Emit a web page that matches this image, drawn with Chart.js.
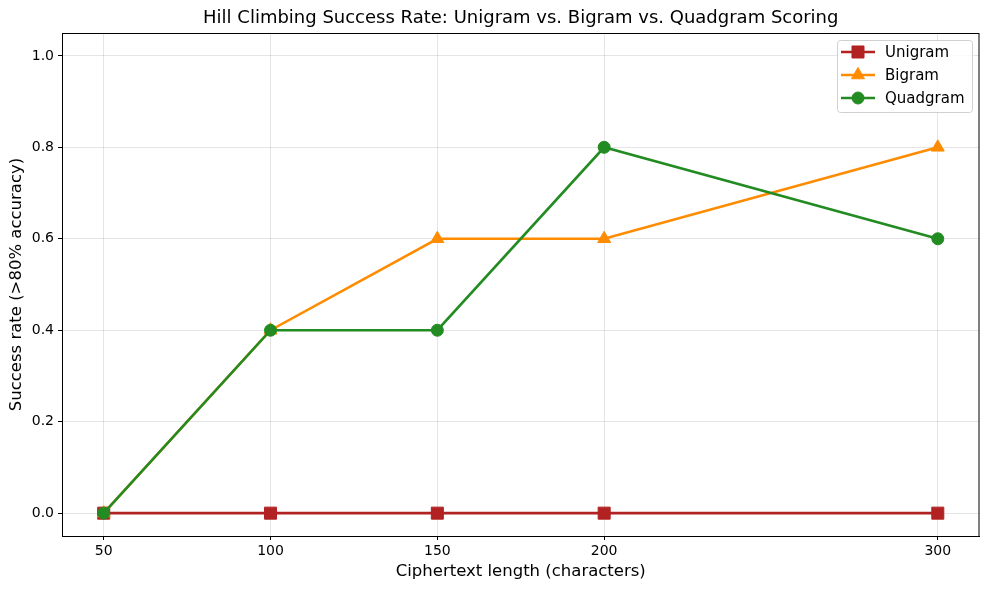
<!DOCTYPE html>
<html>
<head>
<meta charset="utf-8">
<script src="https://cdn.jsdelivr.net/npm/chart.js@4/dist/chart.umd.min.js"></script>
<style>
  html, body { margin: 0; padding: 0; background: #fff; }
  #wrap { width: 989px; height: 590px; }
</style>
</head>
<body>
<div id="wrap"><canvas id="hillChart" width="989" height="590"></canvas></div>
<script>
// data
const lengths = [50, 100, 150, 200, 300];
const unigram = [0, 0, 0, 0, 0];
const bigram = [0, 0.4, 0.6, 0.6, 0.8];
const quadgram = [0, 0.4, 0.4, 0.8, 0.6];
const yTicks = [0, 0.2, 0.4, 0.6, 0.8, 1.0];

const titleText = "Hill Climbing Success Rate: Unigram vs. Bigram vs. Quadgram Scoring";
const font = "'DejaVu Sans', sans-serif";

function pts(arr) {
    return lengths.map((x, i) => ({ x: x, y: arr[i] }));
}

function series(label, arr, color, style, radius, order) {
    return {
        label: label,
        data: pts(arr),
        borderColor: color,
        backgroundColor: color,
        pointBackgroundColor: color,
        pointBorderColor: color,
        pointBorderWidth: 1,
        pointStyle: style,
        pointRadius: radius,
        pointHoverRadius: radius,
        borderWidth: 2.6,
        tension: 0,
        order: order
    };
}

// frame, title and matplotlib-style legend inside the plot
const extras = {
    id: 'extras',
    afterDraw(chart) {
        const ctx = chart.ctx;
        const a = chart.chartArea;
        ctx.save();
        ctx.strokeStyle = '#000';
        ctx.lineWidth = 1;
        ctx.strokeRect(a.left + 0.5, a.top + 0.5, a.right - a.left - 1, a.bottom - a.top);

        ctx.fillStyle = '#000';
        ctx.font = "18px " + font;
        ctx.textAlign = 'center';
        ctx.textBaseline = 'middle';
        ctx.fillText(titleText, (a.left + a.right) / 2, 18);

        // legend box
        const bx = 837, by = 40, bw = 135, bh = 72;
        ctx.fillStyle = 'rgba(255,255,255,0.8)';
        ctx.strokeStyle = '#d0d0d0';
        ctx.beginPath();
        ctx.roundRect(bx + 0.5, by + 0.5, bw, bh, 3);
        ctx.fill();
        ctx.stroke();

        ctx.font = "15px " + font;
        ctx.textAlign = 'left';
        chart.data.datasets.forEach((ds, i) => {
            const y = by + 12 + i * 23;
            ctx.strokeStyle = ds.borderColor;
            ctx.lineWidth = 2.6;
            ctx.beginPath();
            ctx.moveTo(bx + 4, y);
            ctx.lineTo(bx + 38, y);
            ctx.stroke();
            ctx.fillStyle = ds.borderColor;
            ctx.lineWidth = 1;
            Chart.helpers.drawPoint(ctx, { pointStyle: ds.pointStyle, radius: ds.pointRadius, borderWidth: 1 }, bx + 21, y);
            ctx.fillStyle = '#000';
            ctx.fillText(ds.label, bx + 48, y + 1);
        });
        ctx.restore();
    }
};

new Chart(document.getElementById('hillChart'), {
    type: 'line',
    data: {
        datasets: [
            series('Unigram', unigram, '#b22222', 'rect', 8.5, 3),
            series('Bigram', bigram, '#ff8c00', 'triangle', 7.5, 2),
            series('Quadgram', quadgram, '#228b22', 'circle', 6, 1)
        ]
    },
    options: {
        responsive: false,
        animation: false,
        layout: { padding: { top: 33, right: 9, left: 0, bottom: 0 } },
        plugins: {
            legend: { display: false },
            title: { display: false },
            tooltip: { enabled: false }
        },
        scales: {
            x: {
                type: 'linear',
                min: 37.5,
                max: 312.5,
                afterBuildTicks: s => { s.ticks = lengths.map(v => ({ value: v })); },
                afterFit: s => { s.height = 54; },
                ticks: { color: '#000', font: { family: font, size: 14 }, padding: 3, maxRotation: 0 },
                grid: { color: 'rgba(0,0,0,0.1)', tickColor: '#000', tickLength: 4 },
                border: { color: '#000', width: 1 },
                title: {
                    display: true,
                    text: 'Ciphertext length (characters)',
                    color: '#000',
                    font: { family: font, size: 16.5 },
                    padding: { top: 2, bottom: 8 }
                }
            },
            y: {
                min: -0.05,
                max: 1.05,
                afterBuildTicks: s => { s.ticks = yTicks.map(v => ({ value: v })); },
                afterFit: s => { s.width = 62; },
                ticks: {
                    color: '#000',
                    font: { family: font, size: 14 },
                    padding: 4,
                    callback: v => v.toFixed(1)
                },
                grid: { color: 'rgba(0,0,0,0.1)', tickColor: '#000', tickLength: 4 },
                border: { color: '#000', width: 1 },
                title: {
                    display: true,
                    text: 'Success rate (>80% accuracy)',
                    color: '#000',
                    font: { family: font, size: 16.5 },
                    padding: { top: 7, bottom: 4 }
                }
            }
        }
    },
    plugins: [extras]
});
</script>
</body>
</html>
